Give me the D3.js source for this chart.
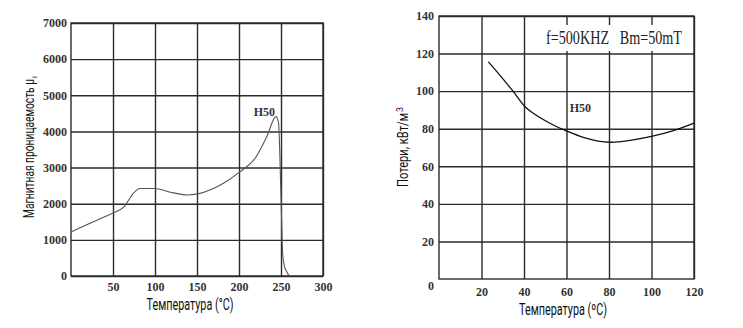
<!DOCTYPE html>
<html><head><meta charset="utf-8">
<script src="https://cdn.jsdelivr.net/npm/d3@7"></script>
<style>
body{margin:0;background:#fff;}
svg{display:block;}
.tick text{font-family:"Liberation Serif","Times New Roman",serif;font-weight:bold;font-size:12px;fill:#333;}
.title{font-family:"Roboto","DejaVu Sans",sans-serif;fill:#111;}
.lbl{font-family:"Liberation Serif",serif;font-weight:bold;fill:#333;}
.ann{font-family:"Liberation Serif",serif;font-weight:normal;fill:#222;}
</style></head>
<body>
<script>
// Left chart: permeability vs temperature
const permTemp  = [0, 20, 40, 50, 63, 74, 82, 98, 122, 138, 152, 181, 201, 219, 233, 244, 247, 250, 252, 254, 256, 260];
const permValue = [1220, 1430, 1640, 1740, 1910, 2280, 2420, 2420, 2300, 2240, 2280, 2560, 2880, 3250, 3850, 4410, 4250, 2200, 600, 280, 150, 0];
const permXTicks = [50, 100, 150, 200, 250, 300];
const permYTicks = [0, 1000, 2000, 3000, 4000, 5000, 6000, 7000];

// Right chart: losses vs temperature
const lossTemp  = [23.2, 29, 35, 40.5, 44.4, 52.2, 60.8, 67.9, 80.5, 91.4, 101, 110.3, 120];
const lossValue = [115.6, 108, 99.7, 91.7, 88.2, 82.9, 78.4, 75.4, 72.8, 74.1, 76.2, 79, 83];
const lossXTicks = [20, 40, 60, 80, 100, 120];
const lossYTicks = [20, 40, 60, 80, 100, 120, 140];

const svg = d3.select("body").append("svg").attr("width", 743).attr("height", 328);
const gridColor = "#2b2b2b";

function panel(o) {
  const x = d3.scaleLinear().domain(o.xDomain).range([o.left, o.right]);
  const y = d3.scaleLinear().domain(o.yDomain).range([o.bottom, o.top]);
  const g = svg.append("g");
  const xa = g.append("g").attr("transform", `translate(0,${o.bottom})`)
    .call(d3.axisBottom(x).tickValues(o.xTicks).tickFormat(d3.format("d"))
      .tickSize(-(o.bottom - o.top)).tickSizeOuter(0).tickPadding(o.xPad));
  const ya = g.append("g").attr("transform", `translate(${o.left},0)`)
    .call(d3.axisLeft(y).tickValues(o.yTicks).tickFormat(d3.format("d"))
      .tickSize(-(o.right - o.left)).tickSizeOuter(0).tickPadding(o.yPad));
  [xa, ya].forEach(a => {
    a.select(".domain").remove();
    a.selectAll(".tick line").attr("stroke", gridColor).attr("stroke-width", 1.4);
  });
  g.append("rect").attr("x", o.left).attr("y", o.top)
    .attr("width", o.right - o.left).attr("height", o.bottom - o.top)
    .attr("fill", "none").attr("stroke", gridColor).attr("stroke-width", 1.4);
  return {g, x, y};
}

// ---- Left ----
const L = panel({xDomain:[0,300], yDomain:[0,7000], left:71, right:323, top:23, bottom:276,
  xTicks:permXTicks, yTicks:permYTicks, xPad:6, yPad:4});
L.g.append("path")
  .datum(permTemp.map((t,i)=>[t, permValue[i]]))
  .attr("fill","none").attr("stroke","#555").attr("stroke-width",1.1)
  .attr("d", d3.line().x(d=>L.x(d[0])).y(d=>L.y(d[1])).curve(d3.curveMonotoneX));
L.g.append("text").attr("class","lbl").attr("font-size",12)
  .attr("x", L.x(243)).attr("y", L.y(4420)).attr("text-anchor","end").text("H50");
L.g.append("text").attr("class","title").style("font-size","15px").attr("text-anchor","start")
  .attr("transform", `translate(${34},${218}) rotate(-90)`)
  .attr("textLength", 139).attr("lengthAdjust","spacingAndGlyphs")
  .text("Магнитная проницаемость μ");
L.g.append("text").attr("class","title").style("font-size","8px").attr("text-anchor","start")
  .attr("transform", `translate(${37},${78}) rotate(-90)`).text("i");
L.g.append("text").attr("class","title").style("font-size","16px").attr("text-anchor","middle")
  .attr("textLength", 87).attr("lengthAdjust","spacingAndGlyphs")
  .attr("x", 190).attr("y", 310).text("Температура (°C)");

// ---- Right ----
const R = panel({xDomain:[0,120], yDomain:[0,140], left:439, right:694, top:16, bottom:279,
  xTicks:lossXTicks, yTicks:lossYTicks, xPad:8, yPad:5});
R.g.append("text").attr("class","lbl").attr("font-size",12)
  .attr("x", R.x(0) - 8).attr("y", R.y(0) + 11).attr("text-anchor","middle").text("0");
R.g.append("rect").attr("x", 543).attr("y", 25).attr("width", 147).attr("height", 26).attr("fill","#fff");
R.g.append("text").attr("class","ann").attr("font-size",19)
  .attr("x", 546).attr("y", 44).attr("textLength", 136).attr("lengthAdjust","spacingAndGlyphs")
  .attr("xml:space","preserve")
  .text("f=500KHZ   Bm=50mT");
R.g.append("path")
  .datum(lossTemp.map((t,i)=>[t, lossValue[i]]))
  .attr("fill","none").attr("stroke","#111").attr("stroke-width",1.3)
  .attr("d", d3.line().x(d=>R.x(d[0])).y(d=>R.y(d[1])).curve(d3.curveMonotoneX));
R.g.append("text").attr("class","lbl").attr("font-size",12)
  .attr("x", R.x(66.5)).attr("y", R.y(89)).attr("text-anchor","middle").text("H50");
R.g.append("text").attr("class","title").style("font-size","15px").attr("text-anchor","start")
  .attr("transform", `translate(${408},${187}) rotate(-90)`)
  .attr("textLength", 74).attr("lengthAdjust","spacingAndGlyphs")
  .text("Потери, кВт/м");
R.g.append("text").attr("class","title").style("font-size","9px").attr("text-anchor","start")
  .attr("transform", `translate(${403},${112}) rotate(-90)`).text("3");
R.g.append("text").attr("class","title").style("font-size","16px").attr("text-anchor","middle")
  .attr("textLength", 88).attr("lengthAdjust","spacingAndGlyphs")
  .attr("x", 563).attr("y", 315).text("Температура (ºC)");
</script>
</body></html>
